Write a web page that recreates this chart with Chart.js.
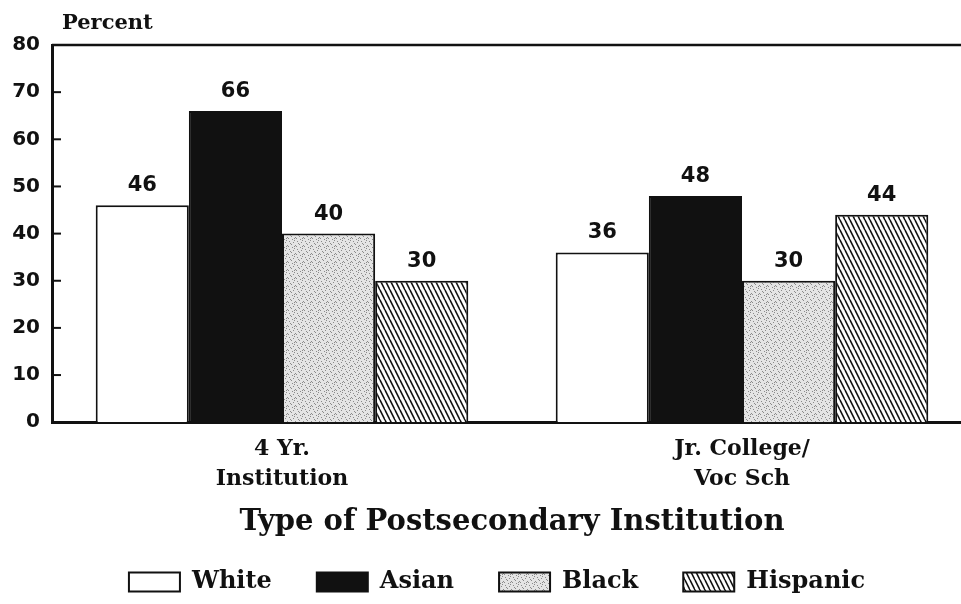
<!DOCTYPE html>
<html>
<head>
<meta charset="utf-8">
<script src="https://cdn.jsdelivr.net/npm/chart.js@4/dist/chart.umd.min.js"></script>
<style>
  html, body { margin: 0; padding: 0; background: #fff; overflow: hidden; }
  #wrap { width: 972px; height: 604px; position: relative; }
</style>
</head>
<body>
<div id="wrap"><canvas id="chart"></canvas></div>
<script>
// data
const categories = [["4 Yr.", "Institution"], ["Jr. College/", "Voc Sch"]];
const groups = ["White", "Asian", "Black", "Hispanic"];
const whiteValues = [46, 36];
const asianValues = [66, 48];
const blackValues = [40, 30];
const hispanicValues = [30, 44];
const yTicks = [0, 10, 20, 30, 40, 50, 60, 70, 80];

const numFont = "'DejaVu Sans', sans-serif";
const textFont = "'DejaVu Serif', serif";

// fill textures
const makeStipple = () => {
  const c = document.createElement("canvas");
  c.width = 8;
  c.height = 8;
  const g = c.getContext("2d");
  g.fillStyle = "#e4e4e4";
  g.fillRect(0, 0, 8, 8);
  g.fillStyle = "#8a8a8a";
  [[1, 1], [5, 2], [3, 4], [7, 5], [0, 6], [4, 7], [6, 0], [2, 3], [6, 6]].forEach(
    ([x, y]) => g.fillRect(x, y, 1, 1)
  );
  return g.createPattern(c, "repeat");
};

const makeHatch = () => {
  const c = document.createElement("canvas");
  c.width = 5;
  c.height = 10;
  const g = c.getContext("2d");
  g.fillStyle = "#fff";
  g.fillRect(0, 0, 5, 10);
  g.strokeStyle = "#111";
  g.lineWidth = 1.6;
  [-5, 0, 5].forEach((dx) => {
    g.beginPath();
    g.moveTo(dx, 0);
    g.lineTo(dx + 5, 10);
    g.stroke();
  });
  return g.createPattern(c, "repeat");
};

// y ticks inside the axis, top frame line, value labels and "Percent"
const decorations = {
  id: "decorations",
  afterLayout(chart) {
    // legend sits a little right of the canvas centre in the original
    chart.legend.left += 11;
    chart.legend.right += 11;
  },
  afterDatasetsDraw(chart) {
    const { ctx, chartArea, scales } = chart;
    ctx.save();
    ctx.strokeStyle = "#111";
    ctx.lineWidth = 2.5;
    ctx.beginPath();
    ctx.moveTo(chartArea.left, chartArea.top);
    ctx.lineTo(chartArea.right, chartArea.top);
    ctx.stroke();
    ctx.lineWidth = 2;
    yTicks.slice(1, -1).forEach((v) => {
      const y = scales.y.getPixelForValue(v);
      ctx.beginPath();
      ctx.moveTo(chartArea.left, y);
      ctx.lineTo(chartArea.left + 9, y);
      ctx.stroke();
    });
    ctx.fillStyle = "#111";
    ctx.font = "bold 21px " + numFont;
    ctx.textAlign = "center";
    ctx.textBaseline = "bottom";
    chart.data.datasets.forEach((ds, i) => {
      chart.getDatasetMeta(i).data.forEach((bar, j) => {
        ctx.fillText(ds.data[j], bar.x, bar.y - 9);
      });
    });
    ctx.font = "bold 21px " + textFont;
    ctx.textAlign = "left";
    ctx.fillText("Percent", chartArea.left + 10, chartArea.top - 11);
    ctx.restore();
  },
};

const barStyle = (label, data, fill) => ({
  label,
  data,
  backgroundColor: fill,
  borderColor: "#111",
  borderWidth: 2,
  borderSkipped: "bottom",
});

new Chart(document.getElementById("chart"), {
  type: "bar",
  data: {
    labels: categories,
    datasets: [
      barStyle(groups[0], whiteValues, "#fff"),
      barStyle(groups[1], asianValues, "#111"),
      barStyle(groups[2], blackValues, makeStipple()),
      barStyle(groups[3], hispanicValues, makeHatch()),
    ],
  },
  options: {
    responsive: true,
    maintainAspectRatio: false,
    animation: false,
    layout: { padding: { top: 45, right: 0, left: 0, bottom: 0 } },
    datasets: {
      bar: { categoryPercentage: 0.81, barPercentage: 1 },
    },
    plugins: {
      tooltip: { enabled: false },
      legend: {
        position: "bottom",
        labels: {
          color: "#111",
          boxWidth: 51,
          boxHeight: 19,
          padding: 45,
          font: { family: textFont, size: 24, weight: "bold" },
        },
      },
    },
    scales: {
      x: {
        grid: { display: false, drawTicks: false },
        border: { display: true, color: "#111", width: 3 },
        ticks: {
          color: "#111",
          padding: 12,
          font: { family: textFont, size: 22, weight: "bold", lineHeight: 30 / 22 },
        },
        title: {
          display: true,
          text: "Type of Postsecondary Institution",
          color: "#111",
          font: { family: textFont, size: 29, weight: "bold" },
          padding: { top: -1, bottom: -15 },
        },
      },
      y: {
        min: 0,
        max: 80,
        grid: { display: false, drawTicks: false },
        border: { display: true, color: "#111", width: 3 },
        afterBuildTicks: (scale) => {
          scale.ticks = yTicks.map((value) => ({ value }));
        },
        afterFit: (scale) => {
          scale.width = 52;
        },
        ticks: {
          color: "#111",
          padding: 12,
          font: { family: numFont, size: 20, weight: "bold" },
        },
      },
    },
  },
  plugins: [decorations],
});
</script>
</body>
</html>
